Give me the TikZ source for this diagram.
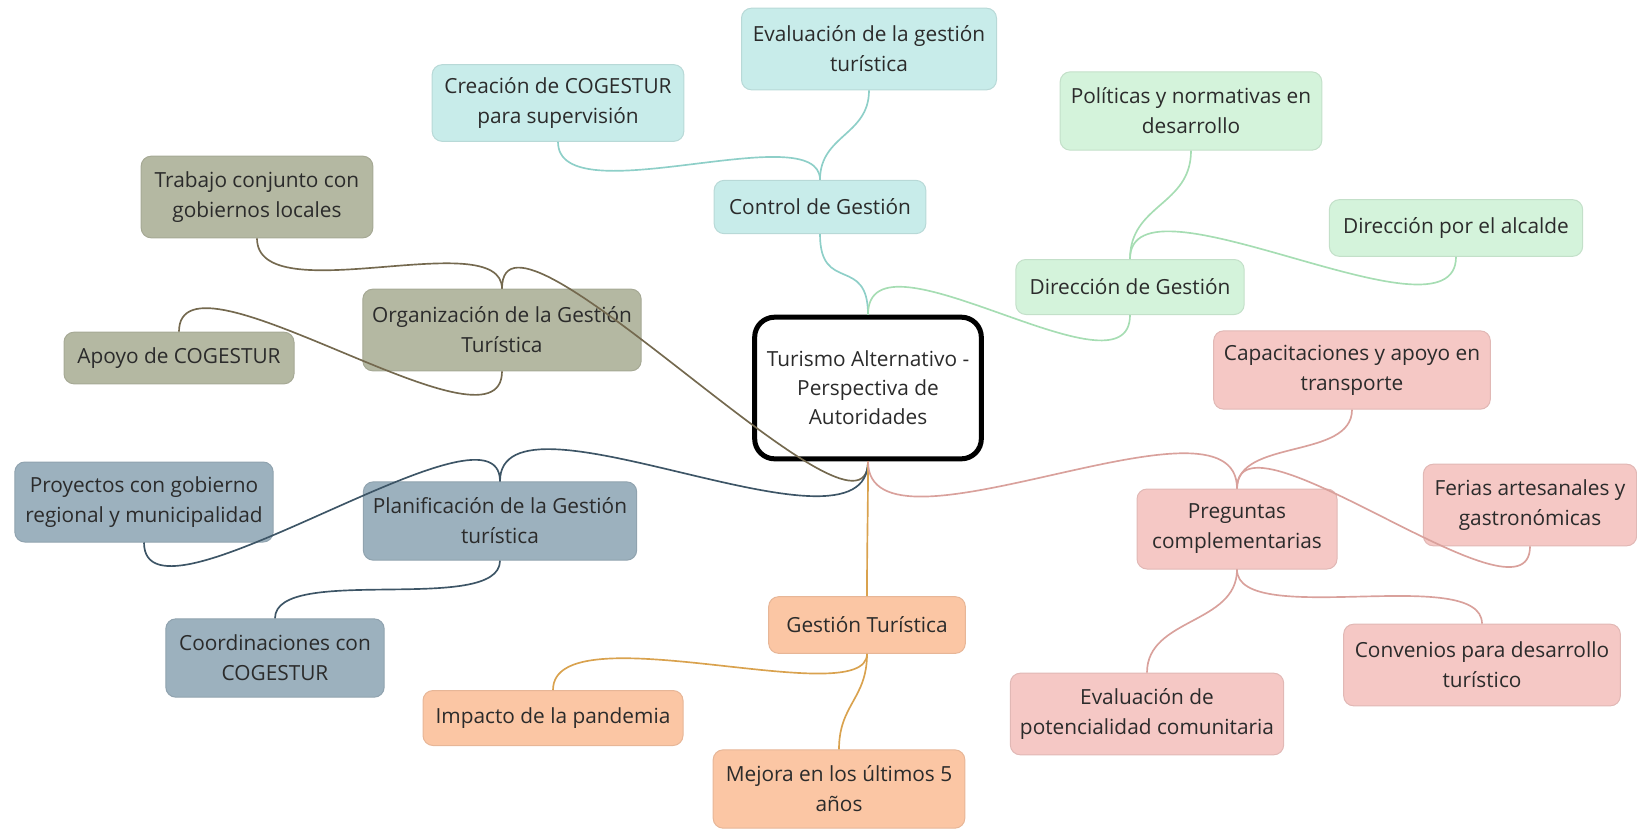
\documentclass[tikz,border=0pt]{standalone}
\usepackage{fontspec}
\setmainfont{Open Sans}
\definecolor{txt}{HTML}{2B2B2B}
\definecolor{tealfill}{HTML}{C8ECEA}
\definecolor{tealline}{HTML}{8ECFC8}
\definecolor{greenfill}{HTML}{D4F3DB}
\definecolor{greenline}{HTML}{A6DDB3}
\definecolor{olivefill}{HTML}{B4B8A2}
\definecolor{oliveline}{HTML}{74694F}
\definecolor{bluefill}{HTML}{9CB1BE}
\definecolor{blueline}{HTML}{3D5566}
\definecolor{orangefill}{HTML}{FBC6A4}
\definecolor{orangeline}{HTML}{D9A24E}
\definecolor{pinkfill}{HTML}{F5C8C5}
\definecolor{pinkline}{HTML}{D9A19C}
\begin{document}
\begin{tikzpicture}[x=0.6pt,y=-0.6pt,
  box/.style={rounded corners=6pt, align=center, inner sep=0pt, text=txt,
    font=\fontsize{12.5}{18}\selectfont, line width=0.6pt},
  tealbox/.style={box, fill=tealfill, draw=tealfill!92!black},
  greenbox/.style={box, fill=greenfill, draw=greenfill!92!black},
  olivebox/.style={box, fill=olivefill, draw=olivefill!92!black},
  bluebox/.style={box, fill=bluefill, draw=bluefill!92!black},
  orangebox/.style={box, fill=orangefill, draw=orangefill!92!black},
  pinkbox/.style={box, fill=pinkfill, draw=pinkfill!92!black},
  rootbox/.style={rounded corners=12pt, align=center, inner sep=0pt, text=txt,
    font=\fontsize{12.5}{17.5}\selectfont, line width=3pt, draw=black, fill=white},
  conn/.style={line width=1pt},
  sz/.style n args={2}{minimum width=#1pt, minimum height=#2pt}
]
\useasboundingbox (0,0) rectangle (1637,829);
% root
\node[rootbox, sz={136}{85}] (root) at (868,388) {Turismo Alternativo -\\Perspectiva de\\Autoridades};
% teal
\node[tealbox, sz={127}{32}] (ctrl) at (820,207) {Control de Gestión};
\node[tealbox, sz={153}{49}] (eval) at (869,49) {Evaluación de la gestión\\turística};
\node[tealbox, sz={151}{46}] (crea) at (558,103) {Creación de COGESTUR\\para supervisión};
% green
\node[greenbox, sz={137}{33}] (dir) at (1130,287) {Dirección de Gestión};
\node[greenbox, sz={157}{47}] (poli) at (1191,111) {Políticas y normativas en\\desarrollo};
\node[greenbox, sz={152}{34}] (alc) at (1456,228) {Dirección por el alcalde};
% olive
\node[olivebox, sz={167}{49}] (org) at (502,330) {Organización de la Gestión\\Turística};
\node[olivebox, sz={139}{49}] (trab) at (257,197) {Trabajo conjunto con\\gobiernos locales};
\node[olivebox, sz={138}{31}] (apo) at (179,358) {Apoyo de COGESTUR};
% blue
\node[bluebox, sz={164}{47}] (plan) at (500,521) {Planificación de la Gestión\\turística};
\node[bluebox, sz={155}{48}] (proy) at (144,502) {Proyectos con gobierno\\regional y municipalidad};
\node[bluebox, sz={131}{47}] (coord) at (275,658) {Coordinaciones con\\COGESTUR};
% orange
\node[orangebox, sz={118}{34}] (gt) at (867,625) {Gestión Turística};
\node[orangebox, sz={156}{33}] (imp) at (553,718) {Impacto de la pandemia};
\node[orangebox, sz={151}{47}] (mej) at (839,789) {Mejora en los últimos 5\\años};
% pink
\node[pinkbox, sz={120}{48}] (preg) at (1237,529) {Preguntas\\complementarias};
\node[pinkbox, sz={166}{47}] (cap) at (1352,370) {Capacitaciones y apoyo en\\transporte};
\node[pinkbox, sz={128}{49}] (fer) at (1530,505) {Ferias artesanales y\\gastronómicas};
\node[pinkbox, sz={166}{49}] (conv) at (1482,665) {Convenios para desarrollo\\turístico};
\node[pinkbox, sz={164}{49}] (evc) at (1147,714) {Evaluación de\\potencialidad comunitaria};
% connectors
\draw[conn, tealline] (root.north) .. controls +(0,-60) and +(0,60) .. (ctrl.south);
\draw[conn, tealline] (ctrl.north) .. controls +(0,-45) and +(0,45) .. (eval.south);
\draw[conn, tealline] (ctrl.north) .. controls +(0,-65) and +(0,75) .. (crea.south);
\draw[conn, greenline] (root.north) .. controls +(0,-95) and +(0,90) .. (dir.south);
\draw[conn, greenline] (dir.north) .. controls +(0,-55) and +(0,55) .. (poli.south);
\draw[conn, greenline] (dir.north) .. controls +(0,-95) and +(0,95) .. (alc.south);
\draw[conn, oliveline] (root.south) .. controls +(0,110) and +(0,-115) .. (org.north);
\draw[conn, oliveline] (org.north) .. controls +(0,-65) and +(0,75) .. (trab.south);
\draw[conn, oliveline] (org.south) .. controls +(0,95) and +(0,-95) .. (apo.north);
\draw[conn, blueline] (root.south) .. controls +(0,110) and +(0,-105) .. (plan.north);
\draw[conn, blueline] (plan.north) .. controls +(0,-95) and +(0,100) .. (proy.south);
\draw[conn, blueline] (plan.south) .. controls +(0,55) and +(0,-55) .. (coord.north);
\draw[conn, orangeline] (root.south) .. controls +(0,60) and +(0,-60) .. (gt.north);
\draw[conn, orangeline] (gt.south) .. controls +(0,60) and +(0,-80) .. (imp.north);
\draw[conn, orangeline] (gt.south) .. controls +(0,45) and +(0,-45) .. (mej.north);
\draw[conn, pinkline] (root.south) .. controls +(0,110) and +(0,-110) .. (preg.north);
\draw[conn, pinkline] (preg.north) .. controls +(0,-50) and +(0,50) .. (cap.south);
\draw[conn, pinkline] (preg.north) .. controls +(0,-90) and +(0,90) .. (fer.south);
\draw[conn, pinkline] (preg.south) .. controls +(0,55) and +(0,-55) .. (evc.north);
\draw[conn, pinkline] (preg.south) .. controls +(0,60) and +(0,-60) .. (conv.north);
\end{tikzpicture}
\end{document}
